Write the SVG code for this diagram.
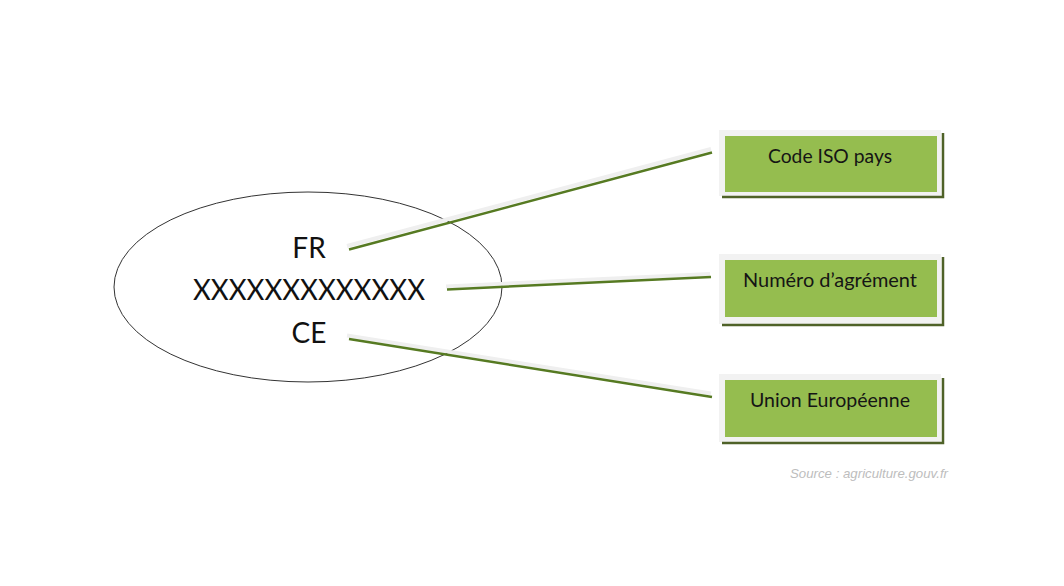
<svg xmlns="http://www.w3.org/2000/svg" width="1064" height="586" viewBox="0 0 1064 586">
<style>
.main{font-family:Lato,"Liberation Sans",sans-serif;font-size:28px;fill:#111;text-anchor:middle}
.lbl{font-family:Lato,"Liberation Sans",sans-serif;font-size:18.5px;fill:#151515;text-anchor:middle}
.frame{fill:#f2f2f2}
.fill{fill:#95bd4f}
.shadow{fill:none;stroke:#4f6228;stroke-width:2.5}
.ls{stroke:#efefef;stroke-width:4;fill:none;stroke-linecap:butt}
.lg{stroke:#567a22;stroke-width:2.5;fill:none}
</style>
<rect width="1064" height="586" fill="#fff"/>
<g id="mark">
<ellipse cx="308" cy="287" rx="194" ry="95" fill="none" stroke="#333" stroke-width="1"/>
<text class="main" x="309" y="258">FR</text>
<text class="main" x="309" y="300" textLength="232" lengthAdjust="spacingAndGlyphs">XXXXXXXXXXXXX</text>
<text class="main" x="309" y="343">CE</text>
</g>
<g id="connectors">
<line class="ls" x1="347" y1="246" x2="711" y2="149"/>
<line class="lg" x1="349" y1="249.5" x2="712" y2="152.5"/>
<line class="ls" x1="446" y1="286.5" x2="710" y2="274"/>
<line class="lg" x1="447" y1="289.5" x2="711" y2="277"/>
<line class="ls" x1="347" y1="335.5" x2="711" y2="393.5"/>
<line class="lg" x1="349" y1="339" x2="712" y2="397"/>
</g>
<g id="box1">
<rect class="frame" x="719" y="130" width="222" height="66"/>
<rect class="fill" x="725" y="136" width="212" height="56"/>
<polyline class="shadow" points="722,197 943,197 943,133"/>
<text class="lbl" x="830" y="163" textLength="124" lengthAdjust="spacingAndGlyphs">Code ISO pays</text>
</g>
<g id="box2">
<rect class="frame" x="719" y="254" width="222" height="70"/>
<rect class="fill" x="725" y="260" width="212" height="57"/>
<polyline class="shadow" points="722,325 943,325 943,257"/>
<text class="lbl" x="830" y="287" textLength="174" lengthAdjust="spacingAndGlyphs">Numéro d’agrément</text>
</g>
<g id="box3">
<rect class="frame" x="719" y="374" width="222" height="68"/>
<rect class="fill" x="725" y="380" width="212" height="57"/>
<polyline class="shadow" points="722,443 943,443 943,378"/>
<text class="lbl" x="830" y="407" textLength="160" lengthAdjust="spacingAndGlyphs">Union Européenne</text>
</g>
<text x="948" y="478" font-family="'Liberation Sans',Arial,sans-serif" font-size="13" font-style="italic" fill="#bdbdbd" text-anchor="end" textLength="158" lengthAdjust="spacingAndGlyphs">Source : agriculture.gouv.fr</text>
</svg>
